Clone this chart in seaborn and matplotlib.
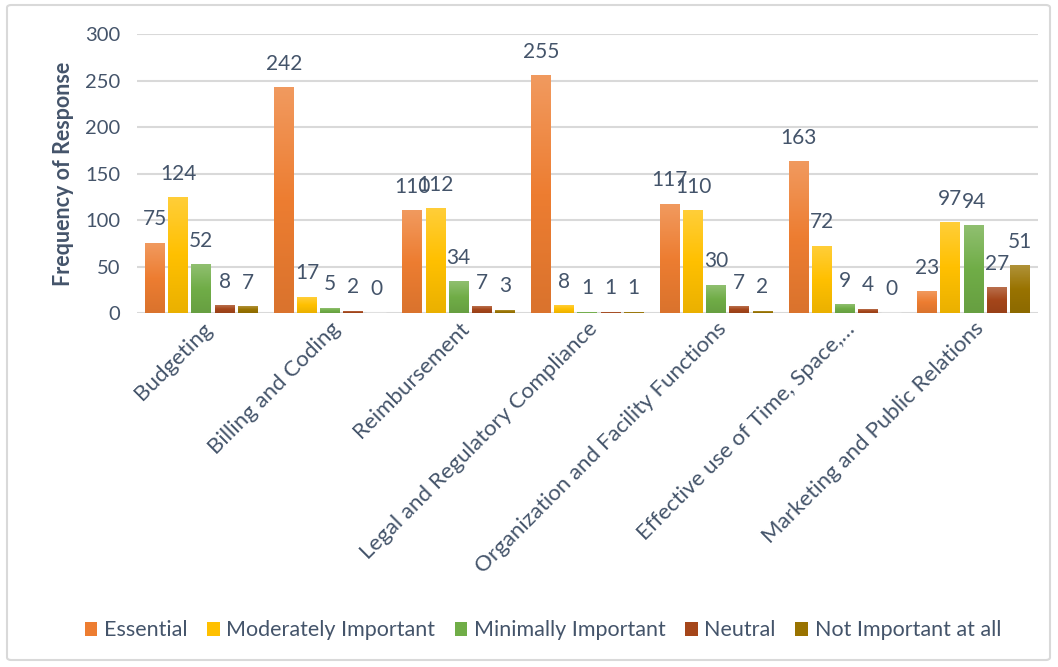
import numpy as np
import pandas as pd
import matplotlib
matplotlib.use("Agg")
import matplotlib.pyplot as plt
import matplotlib.colors as mcolors
from matplotlib.patches import Patch, FancyBboxPatch
import seaborn as sns

categories = ["Budgeting", "Billing and Coding", "Reimbursement",
              "Legal and Regulatory Compliance", "Organization and Facility Functions",
              "Effective use of Time, Space,…", "Marketing and Public Relations"]
series = ["Essential", "Moderately Important", "Minimally Important", "Neutral",
          "Not Important at all"]
essential = [75, 242, 110, 255, 117, 163, 23]
moderately = [124, 17, 112, 8, 110, 72, 97]
minimally = [52, 5, 34, 1, 30, 9, 94]
neutral = [8, 2, 7, 1, 7, 4, 27]
not_important = [7, 0, 3, 1, 2, 0, 51]
yticks = [0, 50, 100, 150, 200, 250, 300]

colors = ["#ED7D31", "#FFC000", "#70AD47", "#A5461A", "#997300"]
text_color = "#44546A"

values = [essential, moderately, minimally, neutral, not_important]
rows = []
for s, vals in zip(series, values):
    for c, v in zip(categories, vals):
        rows.append({"Category": c, "Series": s, "Value": v})
df = pd.DataFrame(rows)

sns.set_theme(style="white")
plt.rcParams["font.family"] = ["Lato", "DejaVu Sans"]

fig = plt.figure(figsize=(10.58, 6.67), dpi=100)
ax = fig.add_axes([0.1295, 0.5307, 0.8515, 0.4183])

sns.barplot(data=df, x="Category", y="Value", hue="Series", order=categories,
            hue_order=series, palette=colors, width=0.9, gap=0.14,
            ax=ax, legend=False, errorbar=None, saturation=1)

ax.set_ylim(0, 300)
ax.set_yticks(yticks)
ax.set_xlim(-0.5, len(categories) - 0.5)

def blend(c, other, t):
    c = np.array(mcolors.to_rgb(c)); o = np.array(mcolors.to_rgb(other))
    return tuple(c * (1 - t) + o * t)

# gradient fill for each bar
for container, col in zip(ax.containers, colors):
    top = blend(col, "white", 0.22)
    bot = blend(col, "black", 0.08)
    cmap = mcolors.LinearSegmentedColormap.from_list("g", [bot, col, top])
    grad = np.linspace(0, 1, 64).reshape(-1, 1)
    for bar in container:
        x0, w, h = bar.get_x(), bar.get_width(), bar.get_height()
        if h <= 0:
            continue
        ax.imshow(grad, extent=[x0, x0 + w, 0, h], origin="lower",
                  cmap=cmap, aspect="auto", zorder=2, interpolation="bilinear")
        bar.set_facecolor("none")
        bar.set_edgecolor("none")
    ax.bar_label(container, labels=[f"{int(b.get_height())}" for b in container],
                 padding=10, fontsize=15, color=text_color, zorder=4)

ax.set_xlim(-0.5, len(categories) - 0.5)
ax.set_ylim(0, 300)

ax.yaxis.grid(True, color="#D9D9D9", linewidth=1.5, zorder=0)
ax.set_axisbelow(True)
for sp in ax.spines.values():
    sp.set_visible(False)
ax.tick_params(axis="both", length=0, colors=text_color)
ax.tick_params(axis="y", pad=12, labelsize=14.5)
ax.tick_params(axis="x", pad=4, labelsize=16)
ax.set_xticks(range(len(categories)))
ax.set_xticklabels(categories, rotation=45, ha="right", rotation_mode="anchor")
ax.set_xlabel("")
ax.set_ylabel("Frequency of Response", fontsize=15.5, fontweight="bold",
              color=text_color, labelpad=8)

handles = [Patch(facecolor=c, edgecolor="none") for c in colors]
fig.legend(handles, series, loc="center", bbox_to_anchor=(0.513, 0.055), ncol=5,
           frameon=False, fontsize=15.5, handlelength=0.6, handleheight=0.6,
           handletextpad=0.3, columnspacing=0.9, labelcolor=text_color)

border = FancyBboxPatch((7 / 1058, 7 / 667), 1043 / 1058, 655 / 667,
                        boxstyle="round,pad=0,rounding_size=0.004",
                        transform=fig.transFigure, fill=False,
                        edgecolor="#D9D9D9", linewidth=1.5)
fig.patches.append(border)

fig.savefig("out.png", dpi=100)
